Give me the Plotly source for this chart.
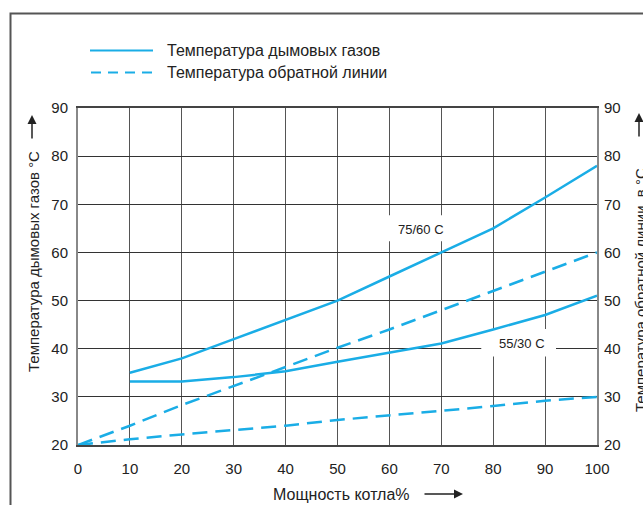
import plotly.graph_objects as go

load_full = [10, 20, 30, 40, 50, 60, 70, 80, 90, 100]
load_ret = [0, 10, 20, 30, 40, 50, 60, 70, 80, 90, 100]

flue_75_60 = [35, 38, 42, 46, 50, 55, 60, 65, 71.4, 78]
return_75_60 = [20, 24, 28.3, 32.2, 36.2, 40.2, 44, 48, 52, 56, 60]
flue_55_30 = [33.2, 33.2, 34.1, 35.3, 37.3, 39.2, 41.1, 44, 47, 51]
return_55_30 = [20, 21.2, 22.2, 23.1, 24.0, 25.2, 26.1, 27.1, 28.1, 29.2, 30]

x_ticks = [0, 10, 20, 30, 40, 50, 60, 70, 80, 90, 100]
y_ticks = [20, 30, 40, 50, 60, 70, 80, 90]

legend_labels = ["Температура дымовых газов", "Температура обратной линии"]
curve_labels = ["75/60 C", "55/30 C"]
x_title = "Мощность котла%"
y_title_left = "Температура дымовых газов °C"
y_title_right = "Температура обратной линии  в °C"

COLOR = "#1aade6"
FONT = "Liberation Sans, Arial, sans-serif"
W, H = 643, 505
# plot area in window pixels
PX0, PX1, PY0, PY1 = 78, 597, 108, 445
L, T, R, B = PX0, PY0, W - PX1, H - PY1
PW, PH = PX1 - PX0, PY1 - PY0


def px(xp):
    return (xp - PX0) / PW


def py(yp):
    return (PY1 - yp) / PH


fig = go.Figure()
fig.add_trace(go.Scatter(x=load_full, y=flue_75_60, mode="lines",
                         line=dict(color=COLOR, width=2.5), showlegend=False))
fig.add_trace(go.Scatter(x=load_ret, y=return_75_60, mode="lines",
                         line=dict(color=COLOR, width=2.5, dash="15px,8px"), showlegend=False))
fig.add_trace(go.Scatter(x=load_full, y=flue_55_30, mode="lines",
                         line=dict(color=COLOR, width=2.5), showlegend=False))
fig.add_trace(go.Scatter(x=load_ret, y=return_55_30, mode="lines",
                         line=dict(color=COLOR, width=2.5, dash="15px,8px"), showlegend=False))
# invisible trace for right axis
fig.add_trace(go.Scatter(x=[0], y=[20], yaxis="y2", mode="markers",
                         marker=dict(opacity=0), showlegend=False, hoverinfo="skip"))

shapes = []
# label boxes (white, between grid and traces)
shapes.append(dict(type="rect", xref="x", yref="y", x0=58.5, x1=73.5, y0=62.3, y1=67.7,
                   fillcolor="white", line=dict(width=0), layer="between"))
shapes.append(dict(type="rect", xref="x", yref="y", x0=77.7, x1=92.1, y0=38.4, y1=44.1,
                   fillcolor="white", line=dict(width=0), layer="between"))
# outer frame
shapes.append(dict(type="rect", xref="paper", yref="paper", x0=px(10.5), x1=px(700),
                   y0=py(560), y1=py(13.5), line=dict(color="#555", width=2), layer="above"))
# legend samples
shapes.append(dict(type="line", xref="paper", yref="paper", x0=px(90), x1=px(153),
                   y0=py(50.5), y1=py(50.5), line=dict(color=COLOR, width=1.8)))
shapes.append(dict(type="line", xref="paper", yref="paper", x0=px(91), x1=px(153),
                   y0=py(72.5), y1=py(72.5), line=dict(color=COLOR, width=1.8, dash="10px,7px")))

txt = dict(showarrow=False, xanchor="center", yanchor="middle")
annotations = []
annotations.append(dict(xref="paper", yref="paper", x=px(165), y=py(50), xanchor="left",
                        yanchor="middle", text=legend_labels[0], showarrow=False,
                        font=dict(size=16, color="#222", family=FONT)))
annotations.append(dict(xref="paper", yref="paper", x=px(165), y=py(72), xanchor="left",
                        yanchor="middle", text=legend_labels[1], showarrow=False,
                        font=dict(size=16, color="#222", family=FONT)))
annotations.append(dict(xref="x", yref="y", x=66.1, y=64.7, text=curve_labels[0],
                        font=dict(size=13, color="#222", family=FONT), **txt))
annotations.append(dict(xref="x", yref="y", x=85.5, y=41.1, text=curve_labels[1],
                        font=dict(size=13, color="#222", family=FONT), **txt))
# axis titles
annotations.append(dict(xref="paper", yref="paper", x=px(341), y=py(494), text=x_title,
                        font=dict(size=16, color="#222", family=FONT), **txt))
annotations.append(dict(xref="paper", yref="paper", x=px(33), y=py(262), text=y_title_left,
                        textangle=-90, font=dict(size=15, color="#222", family=FONT), **txt))
annotations.append(dict(xref="paper", yref="paper", x=px(640), y=py(290), text=y_title_right,
                        textangle=-90, font=dict(size=15, color="#222", family=FONT), **txt))
# arrows
arrow = dict(showarrow=True, arrowhead=2, arrowsize=1.2, arrowwidth=1.5, arrowcolor="#222", text="")
annotations.append(dict(xref="paper", yref="paper", x=px(463), y=py(494), ax=-40, ay=0, **arrow))
annotations.append(dict(xref="paper", yref="paper", x=px(32), y=py(115), ax=0, ay=25, **arrow))
annotations.append(dict(xref="paper", yref="paper", x=px(639), y=py(113), ax=0, ay=25, **arrow))

fig.update_layout(
    width=W, height=H,
    margin=dict(l=L, r=R, t=T, b=B, autoexpand=False),
    paper_bgcolor="white", plot_bgcolor="white",
    font=dict(family=FONT, size=15, color="#222"),
    xaxis=dict(range=[0, 100], tickvals=x_ticks, showgrid=True, gridcolor="#555", gridwidth=1,
               zeroline=False, showline=True, linecolor="#444", linewidth=1.5, mirror=True,
               ticks="", ticklabelstandoff=9, fixedrange=True,
               tickfont=dict(size=15, color="#222")),
    yaxis=dict(range=[20, 90], tickvals=y_ticks, showgrid=True, gridcolor="#333", gridwidth=1,
               zeroline=False, showline=True, linecolor="#888", linewidth=2, mirror=True,
               ticks="", ticklabelstandoff=5, tickfont=dict(size=15, color="#222")),
    yaxis2=dict(range=[20, 90], tickvals=y_ticks, overlaying="y", side="right", showgrid=False,
                zeroline=False, showline=False, ticks="", ticklabelstandoff=6,
                tickfont=dict(size=15, color="#222")),
    shapes=shapes, annotations=annotations,
)

fig.write_html("out.html", config={"displayModeBar": False},
               post_script="document.body.style.margin='0';document.body.style.overflow='hidden';")
